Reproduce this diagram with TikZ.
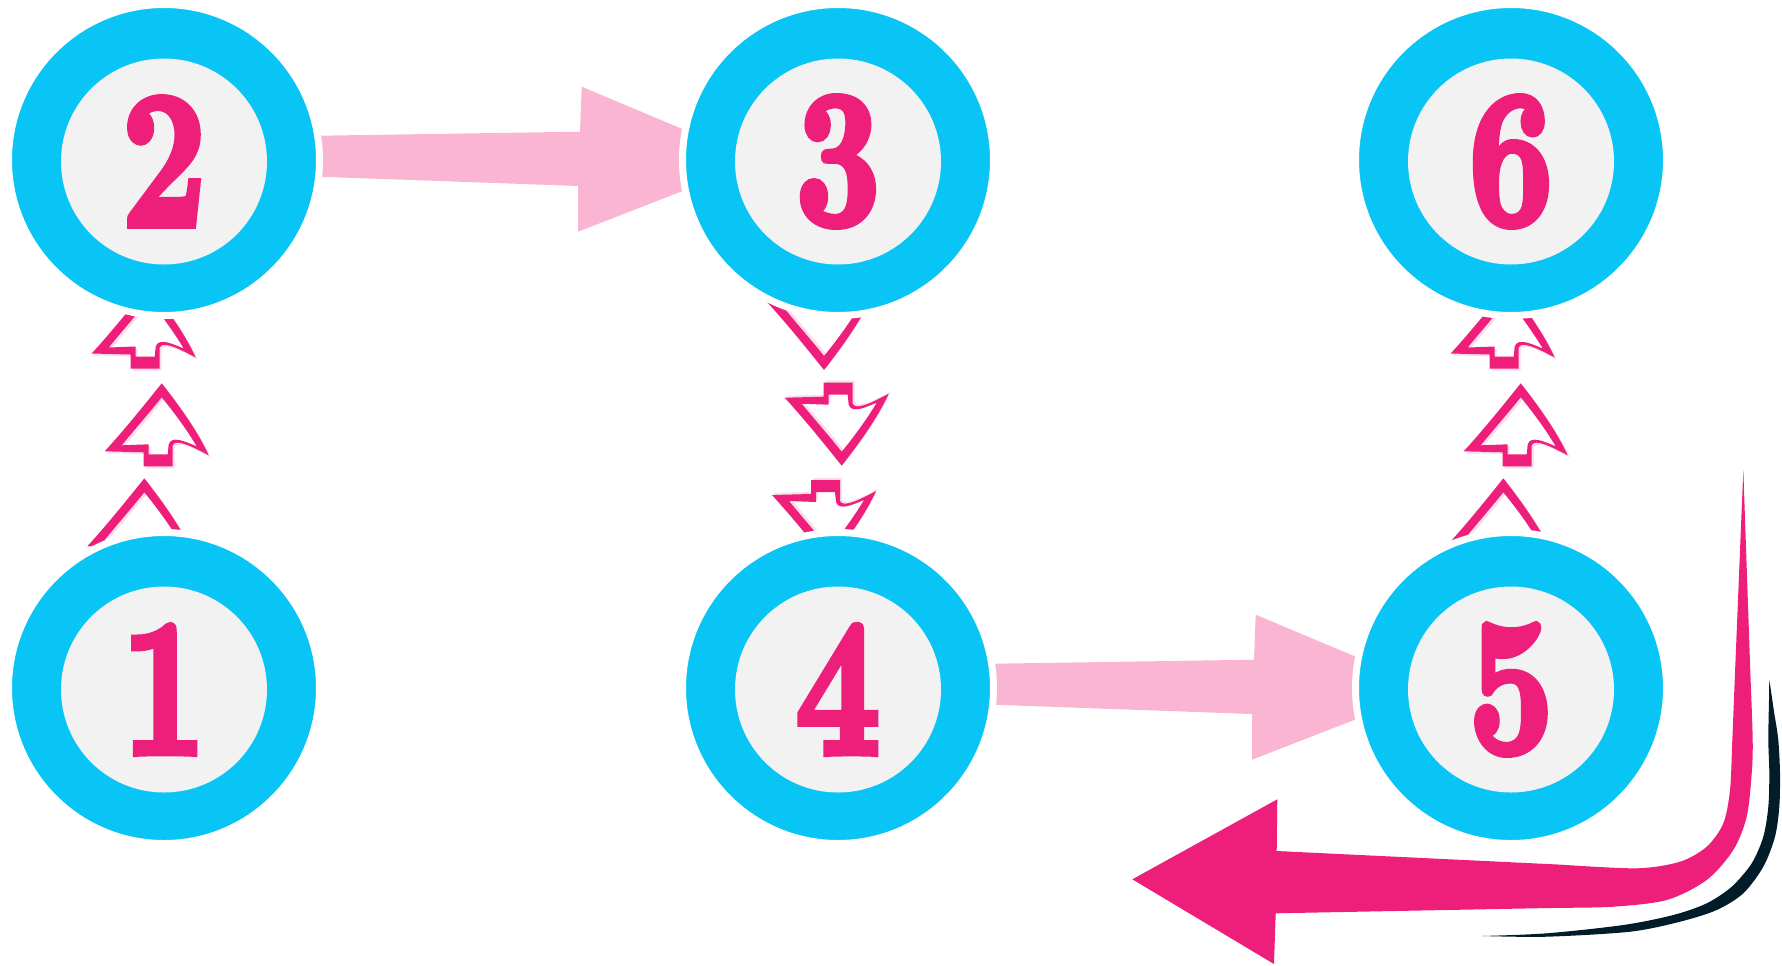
\documentclass[tikz,border=0pt]{standalone}
\usepackage{fontspec}
\usepackage{graphicx}
\usetikzlibrary{calc}
\newfontfamily\digitfont{lmroman10-bold}[Extension=.otf, FakeBold=4]
\definecolor{ringcyan}{HTML}{08C5F5}
\definecolor{coregrey}{HTML}{F2F2F2}
\definecolor{hotpink}{HTML}{EE1F7A}
\definecolor{softpink}{HTML}{F9B5D2}
\definecolor{chevshade}{HTML}{FBDCE8}
\definecolor{inkdark}{HTML}{021C2A}
\pgfdeclarelayer{back}
\pgfsetlayers{back,main}
\newcommand\chevshape{(0,0) .. controls (22,28) and (38,52) .. (47,72) .. controls (30,63) and (14,55) .. (11,62) -- (11,83) -- (-18,83) -- (-18,69) -- (-57,68) .. controls (-36,45) and (-16,20) .. (0,0) -- cycle
 (0,14) .. controls (14,31) and (26,48) .. (35,63) .. controls (23,58) and (10,52) .. (7,61) -- (6,71) -- (-13,71) -- (-13,61) -- (-40,62) .. controls (-26,45) and (-12,29) .. (0,14) -- cycle}
\newcommand\numglyph[1]{\scalebox{0.76}[1]{#1}}
\tikzset{
  ring/.style={circle, fill=ringcyan, draw=white, line width=3.5pt, minimum size=155.5pt, inner sep=0pt},
  core/.style={circle, fill=coregrey, minimum size=103pt, inner sep=0pt, text=hotpink,
    font=\digitfont\fontsize{97pt}{97pt}\selectfont},
  flowarrow/.style={fill=softpink},
  bigarrow/.style={fill=hotpink},
  shadowline/.style={fill=inkdark},
  chevup/.pic={
    \fill[chevshade, even odd rule, shift={(2,2)}] \chevshape;
    \fill[hotpink, even odd rule] \chevshape;
  }
}
\begin{document}
\begin{tikzpicture}[x=0.5pt, y=-0.5pt]
\useasboundingbox (0,0) rectangle (1782,965);

% circles
\node[ring] (c2) at (164,160) {};
\node[core] (d2) at ([yshift=-0.75pt]c2.center) {\numglyph{2}};
\node[ring] (c3) at (838,160) {};
\node[core] (d3) at ([yshift=-0.75pt]c3.center) {\numglyph{3}};
\node[ring] (c6) at (1511,160) {};
\node[core] (d6) at ([yshift=-0.75pt]c6.center) {\numglyph{6}};
\node[ring] (c1) at (164,688) {};
\node[core] (d1) at ([yshift=-0.75pt]c1.center) {\numglyph{1}};
\node[ring] (c4) at (838,688) {};
\node[core] (d4) at ([yshift=-0.75pt]c4.center) {\numglyph{4}};
\node[ring] (c5) at (1511,688) {};
\node[core] (d5) at ([yshift=-0.75pt]c5.center) {\numglyph{5}};

\begin{pgfonlayer}{back}
% light pink arrows
\fill[flowarrow, shift={(c2.center)}] (136,-24) -- (416,-28.3) -- (417.7,-73.3) -- (540,-21.9) -- (540,22.7) -- (414,71.7) -- (414,26) -- (136,16) -- cycle;
\fill[flowarrow, shift={(c4.center)}] (136,-24) -- (416,-28.3) -- (417.7,-73.3) -- (540,-21.9) -- (540,22.7) -- (414,71.7) -- (414,26) -- (136,16) -- cycle;

% chevrons between 2 and 1 (up)
\pic at ($(c2.center)+(-15.3,125.5)$) {chevup};
\pic at ($(c2.center)+(-2.3,223.3)$) {chevup};
\pic at ($(c2.center)+(-19.7,318.3)$) {chevup};
% chevrons between 6 and 5 (up)
\pic at ($(c6.center)+(-3.3,125.5)$) {chevup};
\pic at ($(c6.center)+(9.7,223.3)$) {chevup};
\pic at ($(c6.center)+(-7.7,318.3)$) {chevup};
% chevrons between 3 and 4 (down)
\pic[yscale=-1] at ($(c3.center)+(-14,210)$) {chevup};
\pic[yscale=-1] at ($(c3.center)+(3.7,305.7)$) {chevup};
\pic[yscale=-1] at ($(c3.center)+(-9,403)$) {chevup};
\end{pgfonlayer}

% big return arrow
\fill[bigarrow] (1743.3,470) -- (1750.6,680) -- plot[smooth] coordinates {(1750.6,680) (1752.7,740) (1751.7,773.3) (1746.7,816.7) (1733.3,850) (1706.7,880) (1666.7,900) (1613.3,906.7) (1560,907.8)}
  -- (1275.7,913.3) -- (1274,964) -- (1132.3,879.3) -- (1277.3,799.3) -- (1276.7,851) -- (1560,864.6)
  -- plot[smooth] coordinates {(1560,864.6) (1636.7,868.3) (1680,861.7) (1706.7,846.7) (1723.3,823.3) (1730,790) (1732.3,740) (1734.7,680)} -- cycle;

% dark shadow stroke
\fill[shadowline] (1769.3,679.3) -- plot[smooth] coordinates {(1774.5,715) (1778.3,740) (1780,773.3) (1779.3,806.7) (1775,836.7) (1763.3,866.7) (1743.3,893.3) (1716.7,910) (1680,921.7) (1630,931.7) (1546.7,936.7) (1481.7,936)}
  -- plot[smooth] coordinates {(1481.7,936) (1546.7,933.3) (1623.3,925) (1673.3,915) (1706.7,903.3) (1731.7,886.7) (1751.7,863.3) (1763.3,836.7) (1768.3,806.7) (1769.3,773.3) (1768.3,740) (1769,700)} -- cycle;
\end{tikzpicture}
\end{document}
